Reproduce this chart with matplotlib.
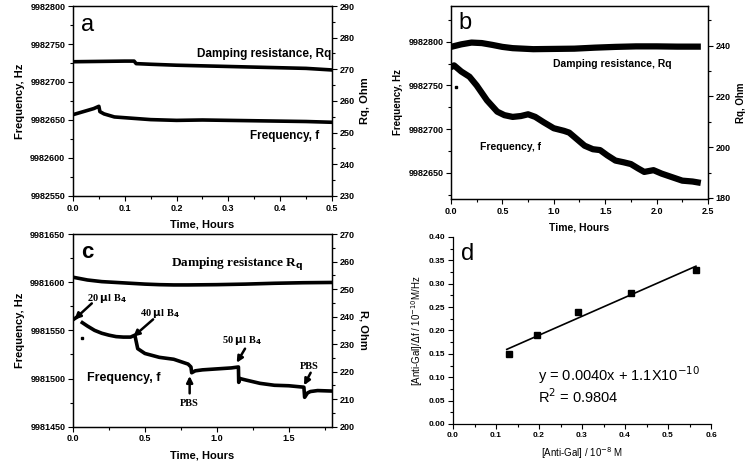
import numpy as np
import matplotlib
matplotlib.use("Agg")
import matplotlib.pyplot as plt
from matplotlib.ticker import AutoMinorLocator

plt.rcParams['font.family'] = ['Liberation Sans', 'DejaVu Sans']

nan = np.nan

# panel a
a_f_t = [0, 0.01, 0.02, 0.03, 0.04, 0.05, 0.052, 0.06, 0.07, 0.08, 0.1, 0.12, 0.15, 0.2, 0.25, 0.3, 0.35, 0.4, 0.45, 0.5]
a_f = [9982657, 9982659, 9982661, 9982663, 9982665, 9982668, 9982661, 9982658, 9982656, 9982654, 9982653,
       9982652, 9982650.5, 9982649.5, 9982650, 9982649.5, 9982649, 9982648.5, 9982648, 9982647]
a_r_t = [0, 0.05, 0.1, 0.118, 0.122, 0.15, 0.2, 0.25, 0.3, 0.35, 0.4, 0.45, 0.5]
a_r = [272.4, 272.5, 272.6, 272.6, 271.8, 271.6, 271.3, 271.1, 270.9, 270.7, 270.5, 270.3, 269.8]

# panel b
b_f_t = [0, 0.03, 0.1, 0.18, 0.25, 0.35, 0.45, 0.52, 0.6, 0.68, 0.75, 0.82, 0.9, 1.0, 1.1, 1.15, 1.22,
         1.3, 1.38, 1.45, 1.52, 1.6, 1.68, 1.75, 1.82, 1.88, 1.97, 2.05, 2.15, 2.25, 2.35, 2.4]
b_f = [9982771, 9982773, 9982766, 9982760, 9982750, 9982733, 9982720, 9982716, 9982714, 9982715, 9982717,
       9982714, 9982708, 9982701, 9982698, 9982696, 9982689, 9982681, 9982677, 9982676, 9982670, 9982664,
       9982662, 9982660, 9982655, 9982651, 9982653, 9982649, 9982645, 9982641, 9982640, 9982639]
b_r_t = [0, 0.1, 0.2, 0.3, 0.4, 0.5, 0.6, 0.8, 1.0, 1.2, 1.4, 1.6, 1.8, 2.0, 2.2, 2.4]
b_r = [239.5, 240.5, 241.2, 241.0, 240.3, 239.5, 239.0, 238.6, 238.7, 238.8, 239.2, 239.5, 239.7, 239.7, 239.6, 239.6]
b_stray = (0.05, 9982748)

# panel c
c_f_t = [0, 0.02, 0.05, 0.06, 0.065, 0.1, 0.15, 0.2, 0.25, 0.3, 0.35, 0.4, 0.43, 0.44, 0.45, 0.5, 0.6, 0.7,
         0.8, 0.82, 0.825, 0.85, 0.9, 1.0, 1.1, 1.15, 1.152, 1.16, 1.2, 1.3, 1.4, 1.5, 1.605, 1.61, 1.63,
         1.65, 1.7, 1.8]
c_f = [9981561, 9981563, 9981566, nan, 9981558, 9981554.5, 9981550, 9981547, 9981545, 9981543.5, 9981543,
       9981543, 9981545, 9981538, 9981531, 9981526, 9981522, 9981520, 9981515, 9981512, 9981506, 9981508,
       9981509, 9981510, 9981511, 9981512, 9981496, 9981500, 9981498.5, 9981495, 9981493, 9981492.5,
       9981491, 9981480.5, 9981485, 9981486.5, 9981487.5, 9981487]
c_r_t = [0, 0.05, 0.1, 0.2, 0.3, 0.4, 0.5, 0.6, 0.7, 0.8, 1.0, 1.2, 1.4, 1.6, 1.8]
c_r = [254.3, 253.8, 253.3, 252.7, 252.4, 252.1, 251.8, 251.6, 251.5, 251.5, 251.6, 251.8, 252.1, 252.3, 252.4]
c_stray = (0.06, 9981542)

# panel d
d_x = [0.13, 0.195, 0.29, 0.415, 0.565]
d_y = [0.15, 0.19, 0.24, 0.28, 0.33]

TICK = 6.5
LAB = 8


def style(ax, right=None):
    ax.tick_params(which='both', direction='out', labelsize=TICK, width=0.8, pad=2)
    ax.tick_params(which='major', length=3.5)
    ax.tick_params(which='minor', length=2)
    ax.xaxis.set_minor_locator(AutoMinorLocator(2))
    ax.yaxis.set_minor_locator(AutoMinorLocator(2))
    for lab in ax.get_xticklabels() + ax.get_yticklabels():
        lab.set_fontweight('bold')
    for s in ax.spines.values():
        s.set_linewidth(0.9)


fig = plt.figure(figsize=(7.5, 4.62), dpi=100)

# ---- a
ax = fig.add_axes([0.0973, 0.5758, 0.3453, 0.4112])
ax.plot(a_f_t, a_f, color='black', lw=2.6)
ax.set_xlim(0, 0.5)
ax.set_ylim(9982550, 9982800)
ax.set_xticks(np.arange(0, 0.51, 0.1))
ax.set_yticks(np.arange(9982550, 9982801, 50))
ax.ticklabel_format(useOffset=False, style='plain')
ax.set_xlabel('Time, Hours', fontsize=LAB, fontweight='bold', labelpad=5)
ax.set_ylabel('Frequency, Hz', fontsize=LAB, fontweight='bold', labelpad=4)
ax.text(0.03, 0.96, 'a', transform=ax.transAxes, fontsize=17, va='top')
ax.text(0.342, 9982629, 'Frequency, f', fontsize=8.5, fontweight='bold', va='center')
style(ax)
ar = ax.twinx()
ar.plot(a_r_t, a_r, color='black', lw=2.6)
ar.set_ylim(230, 290)
ar.set_yticks(np.arange(230, 291, 10))
ar.set_ylabel('Rq, Ohm', fontsize=LAB, fontweight='bold', labelpad=4)
ar.text(0.498, 274.8, 'Damping resistance, Rq', fontsize=8.5, fontweight='bold', ha='right', va='center')
style(ar)

# ---- b
ax = fig.add_axes([0.6013, 0.5693, 0.3427, 0.4177])
ax.plot(b_f_t, b_f, color='black', lw=4.5)
ax.plot(*b_stray, 's', color='black', ms=2)
ax.set_xlim(0, 2.5)
ax.set_ylim(9982620, 9982841)
ax.set_xticks(np.arange(0, 2.51, 0.5))
ax.set_yticks(np.arange(9982650, 9982801, 50))
ax.ticklabel_format(useOffset=False, style='plain')
ax.set_xlabel('Time, Hours', fontsize=7.5, fontweight='bold', labelpad=5)
ax.set_ylabel('Frequency, Hz', fontsize=7, fontweight='bold', labelpad=4)
ax.text(0.03, 0.97, 'b', transform=ax.transAxes, fontsize=17, va='top')
ax.text(0.28, 9982680, 'Frequency, f', fontsize=7.5, fontweight='bold', va='center')
style(ax)
br = ax.twinx()
br.plot(b_r_t, b_r, color='black', lw=4.5)
br.set_ylim(179.6, 255.6)
br.set_yticks(np.arange(180, 241, 20))
br.set_ylabel('Rq, Ohm', fontsize=7, fontweight='bold', labelpad=4)
br.text(0.99, 232.7, 'Damping resistance, Rq', fontsize=7.5, fontweight='bold', va='center')
style(br)

# ---- c
ax = fig.add_axes([0.0973, 0.0764, 0.3453, 0.4171])
ax.plot(c_f_t, c_f, color='black', lw=2.6)
ax.plot(*c_stray, 's', color='black', ms=1.5)
ax.set_xlim(0, 1.8)
ax.set_ylim(9981450, 9981650)
ax.set_xticks(np.arange(0, 1.51, 0.5))
ax.set_yticks(np.arange(9981450, 9981651, 50))
ax.ticklabel_format(useOffset=False, style='plain')
ax.set_xlabel('Time, Hours', fontsize=LAB, fontweight='bold', labelpad=5)
ax.set_ylabel('Frequency, Hz', fontsize=LAB, fontweight='bold', labelpad=4)
ax.text(0.03, 0.96, 'c', transform=ax.transAxes, fontsize=16, fontweight='bold', va='top')
ax.text(0.097, 9981501, 'Frequency, f', fontsize=9, fontweight='bold', va='center')

serif = dict(family=['Liberation Serif', 'DejaVu Serif'], fontweight='bold', fontsize=7.5)
arr = dict(arrowstyle='-|>', color='black', lw=1.8, mutation_scale=9, shrinkA=0, shrinkB=0)
ax.text(0.10, 9981583, r'20 $\mathbf{\mu}$l B$_\mathbf{4}$', va='center', **serif)
ax.annotate('', xy=(0.01, 9981561.4), xytext=(0.131, 9981578), arrowprops=arr)
ax.text(0.465, 9981567.6, r'40 $\mathbf{\mu}$l B$_\mathbf{4}$', va='center', **serif)
ax.annotate('', xy=(0.419, 9981543.4), xytext=(0.557, 9981561.4), arrowprops=arr)
ax.text(0.811, 9981474, 'PBS', ha='center', va='center', **serif)
ax.annotate('', xy=(0.811, 9981502.6), xytext=(0.811, 9981484.6), arrowprops=arr)
ax.text(1.037, 9981539, r'50 $\mathbf{\mu}$l B$_\mathbf{4}$', va='center', **serif)
ax.annotate('', xy=(1.138, 9981516.4), xytext=(1.196, 9981531), arrowprops=arr)
ax.text(1.64, 9981512, 'PBS', ha='center', va='center', **serif)
ax.annotate('', xy=(1.606, 9981493), xytext=(1.652, 9981506), arrowprops=arr)
style(ax)
cr = ax.twinx()
cr.plot(c_r_t, c_r, color='black', lw=2.6)
cr.set_ylim(200, 270)
cr.set_yticks(np.arange(200, 271, 10))
cr.set_ylabel('R, Ohm', fontsize=LAB, fontweight='bold', rotation=-90, labelpad=10)
cr.text(0.68, 259.3, r'Damping resistance R$_\mathbf{q}$', va='center',
        family=['Liberation Serif', 'DejaVu Serif'], fontweight='bold', fontsize=9.5)
style(cr)

# ---- d
ax = fig.add_axes([0.604, 0.0823, 0.344, 0.4048])
ax.plot(d_x, d_y, 's', color='black', ms=4)
k, b0 = np.polyfit(d_x, d_y, 1)
xf = np.array([0.125, 0.565])
ax.plot(xf, k * xf + b0, color='black', lw=1.2)
ax.set_xlim(0, 0.6)
ax.set_ylim(0, 0.4)
ax.set_xticks(np.arange(0, 0.61, 0.1))
ax.set_yticks(np.arange(0, 0.41, 0.05))
ax.set_xticklabels(['0.0', '0.1', '0.2', '0.3', '0.4', '0.5', '0.6'])
ax.set_yticklabels(['%.2f' % v for v in np.arange(0, 0.41, 0.05)])
ax.set_xlabel(r'[Anti-Gal] / 10$^{-8}$ M', fontsize=7, labelpad=5)
ax.set_ylabel(r'[Anti-Gal]/$\Delta$f / 10$^{-10}$M/Hz', fontsize=7, labelpad=3)
ax.text(0.03, 0.97, 'd', transform=ax.transAxes, fontsize=17, va='top')
ax.text(0.198, 0.105, r'y = 0.0040x + 1.1X10$^{-10}$', fontsize=10.5, va='center')
ax.text(0.198, 0.058, r'R$^2$ = 0.9804', fontsize=10.5, va='center')
style(ax)
ax.spines['top'].set_visible(False)
ax.spines['right'].set_visible(False)
ax.tick_params(labelsize=6)

fig.savefig('out.png', dpi=100)
